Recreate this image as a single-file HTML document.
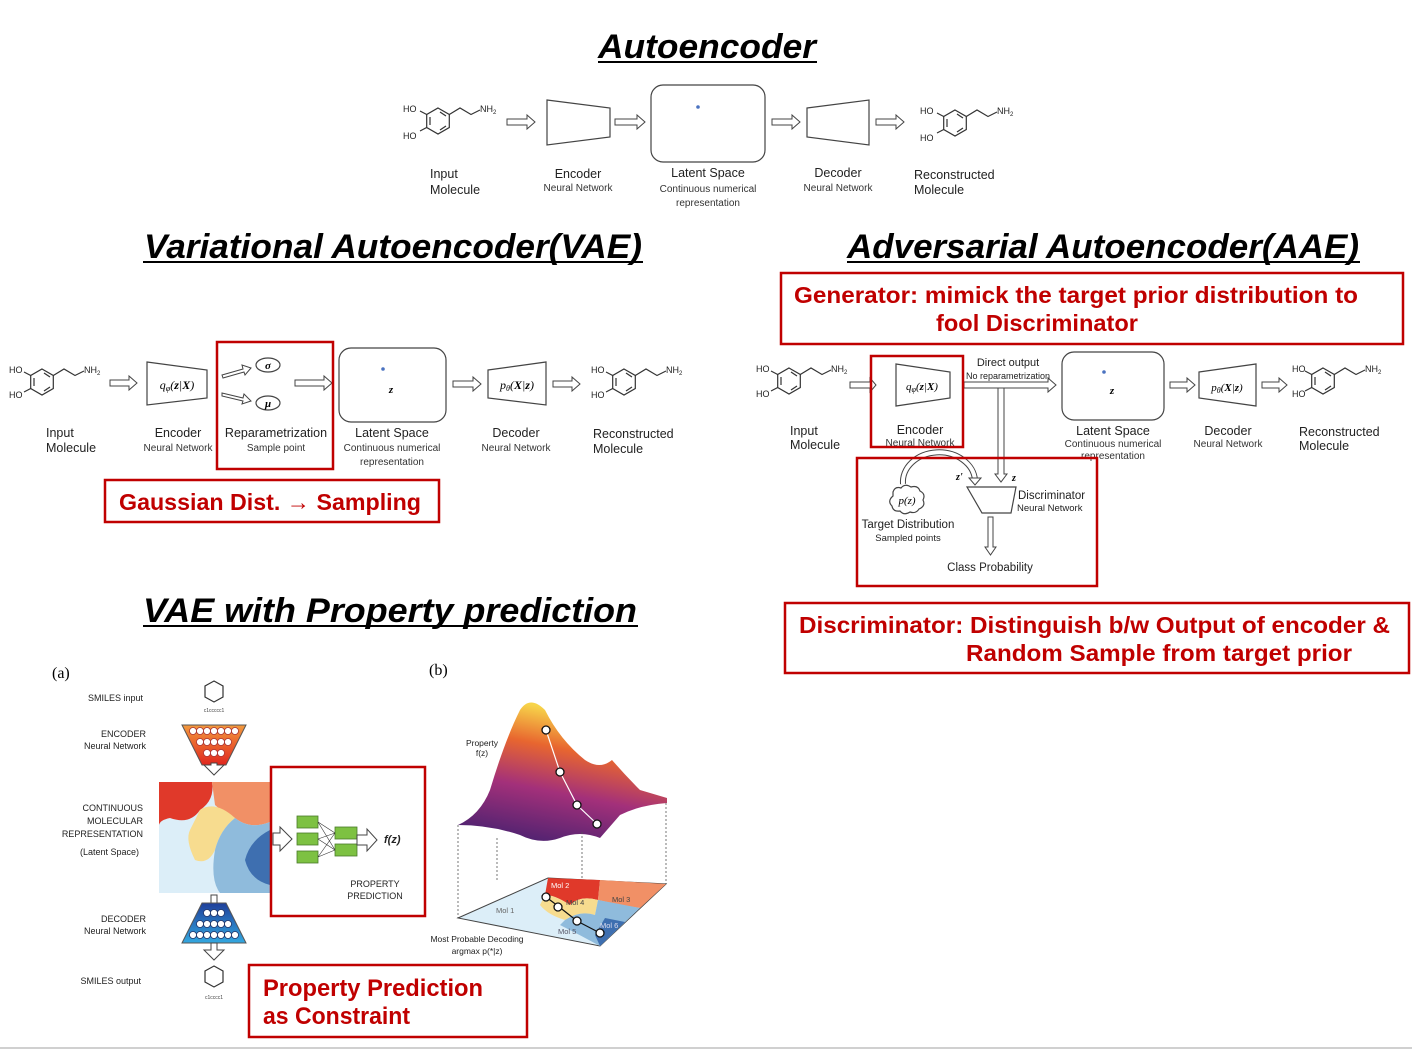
<!DOCTYPE html>
<html><head><meta charset="utf-8"><style>
html,body{margin:0;padding:0;background:#fff;}
svg{display:block;font-family:"Liberation Sans",sans-serif;}
.t{font-size:12.5px;fill:#222;}
.s{font-size:10px;fill:#333;}
.ti{font-size:34px;font-weight:bold;font-style:italic;fill:#000;text-anchor:middle;}
.red{font-weight:bold;fill:#c00000;}
.ar{fill:#fff;stroke:#444;stroke-width:1;}
.bx{fill:none;stroke:#c00000;stroke-width:2.5;}
.sh{fill:#fff;stroke:#444;stroke-width:1.2;}
.m{font-size:9px;fill:#222;}
.mf{fill:none;stroke:#333;stroke-width:1.2;}
</style></head><body>
<svg width="1412" height="1050" viewBox="0 0 1412 1050" xmlns="http://www.w3.org/2000/svg">
<defs>
<linearGradient id="surf" x1="0" y1="1" x2="0.3" y2="0">
<stop offset="0" stop-color="#3b1f6e"/><stop offset="0.45" stop-color="#a3307a"/><stop offset="0.75" stop-color="#e8662f"/><stop offset="1" stop-color="#f7d44a"/>
</linearGradient>
<linearGradient id="enc" x1="0" y1="0" x2="0" y2="1"><stop offset="0" stop-color="#f39a3d"/><stop offset="1" stop-color="#e0261e"/></linearGradient>
<linearGradient id="dec" x1="0" y1="0" x2="0" y2="1"><stop offset="0" stop-color="#1f3f9a"/><stop offset="1" stop-color="#33a8e0"/></linearGradient>
</defs>

<text class="ti" x="707" y="58" textLength="218" lengthAdjust="spacingAndGlyphs">Autoencoder</text>
<line x1="598" y1="62" x2="817" y2="62" stroke="#000" stroke-width="2"/>
<text class="ti" x="393" y="258" textLength="498" lengthAdjust="spacingAndGlyphs">Variational Autoencoder(VAE)</text>
<line x1="143" y1="262" x2="643" y2="262" stroke="#000" stroke-width="2"/>
<text class="ti" x="1103" y="258" textLength="512" lengthAdjust="spacingAndGlyphs">Adversarial Autoencoder(AAE)</text>
<line x1="847" y1="262" x2="1360" y2="262" stroke="#000" stroke-width="2"/>
<text class="ti" x="390" y="622" textLength="494" lengthAdjust="spacingAndGlyphs">VAE with Property prediction</text>
<line x1="143" y1="626" x2="638" y2="626" stroke="#000" stroke-width="2"/>

<g transform="translate(438,121)">
<path class="mf" d="M0,-13 L11.3,-6.5 L11.3,6.5 L0,13 L-11.3,6.5 L-11.3,-6.5 Z M-8,-4 L-8,4 M2,9 L8,5 M2,-9 L8,-5"/>
<path class="mf" d="M-11.3,-6.5 L-18,-10 M-11.3,6.5 L-18,10 M11.3,-6.5 L22,-13 L33,-6.5 L42,-11"/>
<text class="m" x="-35" y="-9">HO</text><text class="m" x="-35" y="18">HO</text><text class="m" x="42" y="-9">NH<tspan font-size="6" dy="2">2</tspan></text>
</g>
<path class="ar" d="M507,119 H527 V115 L535,122 L527,129 V125 H507 Z"/>
<path class="sh" d="M547,100 L610,108 L610,137 L547,145 Z"/>
<path class="ar" d="M615,119 H637 V115 L645,122 L637,129 V125 H615 Z"/>
<rect x="651" y="85" width="114" height="77" rx="12" class="sh"/>
<circle cx="698" cy="107" r="1.8" fill="#4a72c0"/>
<path class="ar" d="M772,119 H792 V115 L800,122 L792,129 V125 H772 Z"/>
<path class="sh" d="M807,108 L869,100 L869,145 L807,137 Z"/>
<path class="ar" d="M876,119 H896 V115 L904,122 L896,129 V125 H876 Z"/>
<g transform="translate(955,123)">
<path class="mf" d="M0,-13 L11.3,-6.5 L11.3,6.5 L0,13 L-11.3,6.5 L-11.3,-6.5 Z M-8,-4 L-8,4 M2,9 L8,5 M2,-9 L8,-5"/>
<path class="mf" d="M-11.3,-6.5 L-18,-10 M-11.3,6.5 L-18,10 M11.3,-6.5 L22,-13 L33,-6.5 L42,-11"/>
<text class="m" x="-35" y="-9">HO</text><text class="m" x="-35" y="18">HO</text><text class="m" x="42" y="-9">NH<tspan font-size="6" dy="2">2</tspan></text>
</g>
<text class="t" x="430" y="178">Input</text><text class="t" x="430" y="194">Molecule</text>
<text class="t" x="578" y="178" text-anchor="middle">Encoder</text><text class="s" x="578" y="191" text-anchor="middle">Neural Network</text>
<text class="t" x="708" y="177" text-anchor="middle">Latent Space</text><text class="s" x="708" y="192" text-anchor="middle">Continuous numerical</text><text class="s" x="708" y="206" text-anchor="middle">representation</text>
<text class="t" x="838" y="177" text-anchor="middle">Decoder</text><text class="s" x="838" y="191" text-anchor="middle">Neural Network</text>
<text class="t" x="914" y="179">Reconstructed</text><text class="t" x="914" y="194">Molecule</text>

<g transform="translate(42,382)">
<path class="mf" d="M0,-13 L11.3,-6.5 L11.3,6.5 L0,13 L-11.3,6.5 L-11.3,-6.5 Z M-8,-4 L-8,4 M2,9 L8,5 M2,-9 L8,-5"/>
<path class="mf" d="M-11.3,-6.5 L-18,-10 M-11.3,6.5 L-18,10 M11.3,-6.5 L22,-13 L33,-6.5 L42,-11"/>
<text class="m" x="-33" y="-9">HO</text><text class="m" x="-33" y="16">HO</text><text class="m" x="42" y="-9">NH<tspan font-size="6" dy="2">2</tspan></text>
</g>
<path class="ar" d="M110,380 H129 V376 L137,383 L129,390 V386 H110 Z"/>
<path class="sh" d="M147,362 L207,370 L207,398 L147,405 Z"/>
<text x="177" y="389" text-anchor="middle" font-family="Liberation Serif,serif" font-style="italic" font-size="12">q<tspan font-size="8" dy="2">φ</tspan><tspan dy="-2">(</tspan><tspan font-weight="bold">z</tspan>|<tspan font-weight="bold">X</tspan>)</text>
<path class="ar" d="M222,375 L243,369 L242,365 L251,368 L245,375 L244,372 L223,378 Z"/>
<path class="ar" d="M222,393 L243,398 L244,394 L251,401 L242,404 L243,401 L222,396 Z"/>
<ellipse cx="268" cy="365" rx="12" ry="7" class="sh"/><text x="268" y="369" text-anchor="middle" font-family="Liberation Serif,serif" font-style="italic" font-weight="bold" font-size="11">σ</text>
<ellipse cx="268" cy="403" rx="12" ry="7" class="sh"/><text x="268" y="407" text-anchor="middle" font-family="Liberation Serif,serif" font-style="italic" font-weight="bold" font-size="11">μ</text>
<path class="ar" d="M295,380 H324 V376 L332,383 L324,390 V386 H295 Z"/>
<rect x="339" y="348" width="107" height="74" rx="12" class="sh"/>
<circle cx="383" cy="369" r="1.8" fill="#4a72c0"/>
<text x="391" y="393" text-anchor="middle" font-family="Liberation Serif,serif" font-style="italic" font-weight="bold" font-size="11">z</text>
<path class="ar" d="M453,381 H473 V377 L481,384 L473,391 V387 H453 Z"/>
<path class="sh" d="M488,370 L546,362 L546,405 L488,398 Z"/>
<text x="517" y="389" text-anchor="middle" font-family="Liberation Serif,serif" font-style="italic" font-size="12">p<tspan font-size="8" dy="2">θ</tspan><tspan dy="-2">(</tspan><tspan font-weight="bold">X</tspan>|<tspan font-weight="bold">z</tspan>)</text>
<path class="ar" d="M553,381 H572 V377 L580,384 L572,391 V387 H553 Z"/>
<g transform="translate(624,382)">
<path class="mf" d="M0,-13 L11.3,-6.5 L11.3,6.5 L0,13 L-11.3,6.5 L-11.3,-6.5 Z M-8,-4 L-8,4 M2,9 L8,5 M2,-9 L8,-5"/>
<path class="mf" d="M-11.3,-6.5 L-18,-10 M-11.3,6.5 L-18,10 M11.3,-6.5 L22,-13 L33,-6.5 L42,-11"/>
<text class="m" x="-33" y="-9">HO</text><text class="m" x="-33" y="16">HO</text><text class="m" x="42" y="-9">NH<tspan font-size="6" dy="2">2</tspan></text>
</g>
<rect x="217" y="342" width="116" height="127" class="bx"/>
<text class="t" x="46" y="437">Input</text><text class="t" x="46" y="452">Molecule</text>
<text class="t" x="178" y="437" text-anchor="middle">Encoder</text><text class="s" x="178" y="451" text-anchor="middle">Neural Network</text>
<text class="t" x="276" y="437" text-anchor="middle">Reparametrization</text><text class="s" x="276" y="451" text-anchor="middle">Sample point</text>
<text class="t" x="392" y="437" text-anchor="middle">Latent Space</text><text class="s" x="392" y="451" text-anchor="middle">Continuous numerical</text><text class="s" x="392" y="465" text-anchor="middle">representation</text>
<text class="t" x="516" y="437" text-anchor="middle">Decoder</text><text class="s" x="516" y="451" text-anchor="middle">Neural Network</text>
<text class="t" x="593" y="438">Reconstructed</text><text class="t" x="593" y="453">Molecule</text>
<rect x="105" y="480" width="334" height="42" class="bx"/>
<text class="red" x="119" y="510" font-size="23" textLength="302" lengthAdjust="spacingAndGlyphs">Gaussian Dist. → Sampling</text>

<rect x="781" y="273" width="622" height="71" class="bx"/>
<text class="red" x="794" y="303" font-size="23" textLength="564" lengthAdjust="spacingAndGlyphs">Generator: mimick the target prior distribution to</text>
<text class="red" x="936" y="331" font-size="23" textLength="202" lengthAdjust="spacingAndGlyphs">fool Discriminator</text>
<g transform="translate(789,381)">
<path class="mf" d="M0,-13 L11.3,-6.5 L11.3,6.5 L0,13 L-11.3,6.5 L-11.3,-6.5 Z M-8,-4 L-8,4 M2,9 L8,5 M2,-9 L8,-5"/>
<path class="mf" d="M-11.3,-6.5 L-18,-10 M-11.3,6.5 L-18,10 M11.3,-6.5 L22,-13 L33,-6.5 L42,-11"/>
<text class="m" x="-33" y="-9">HO</text><text class="m" x="-33" y="16">HO</text><text class="m" x="42" y="-9">NH<tspan font-size="6" dy="2">2</tspan></text>
</g>
<path class="ar" d="M850,382 H870 V378 L876,385 L870,392 V388 H850 Z"/>
<path class="sh" d="M896,364 L950,372 L950,398 L896,406 Z"/>
<text x="922" y="390" text-anchor="middle" font-family="Liberation Serif,serif" font-style="italic" font-size="11">q<tspan font-size="8" dy="2">φ</tspan><tspan dy="-2">(</tspan><tspan font-weight="bold">z</tspan>|<tspan font-weight="bold">X</tspan>)</text>
<path class="ar" d="M964,382 H1048 V378 L1056,385 L1048,392 V388 H964 Z"/>
<path class="ar" d="M998,388 H1004 V474 H1007 L1001,482 L995,474 H998 Z"/>
<text x="1008" y="366" font-size="11" text-anchor="middle" fill="#222">Direct output</text>
<text x="1008" y="379" font-size="9" text-anchor="middle" fill="#222">No reparametrization</text>
<rect x="1062" y="352" width="102" height="68" rx="12" class="sh"/>
<circle cx="1104" cy="372" r="1.8" fill="#4a72c0"/>
<text x="1112" y="394" text-anchor="middle" font-family="Liberation Serif,serif" font-style="italic" font-weight="bold" font-size="11">z</text>
<path class="ar" d="M1170,382 H1187 V378 L1195,385 L1187,392 V388 H1170 Z"/>
<path class="sh" d="M1199,372 L1256,364 L1256,406 L1199,398 Z"/>
<text x="1227" y="391" text-anchor="middle" font-family="Liberation Serif,serif" font-style="italic" font-size="11">p<tspan font-size="8" dy="2">θ</tspan><tspan dy="-2">(</tspan><tspan font-weight="bold">X</tspan>|<tspan font-weight="bold">z</tspan>)</text>
<path class="ar" d="M1262,382 H1279 V378 L1287,385 L1279,392 V388 H1262 Z"/>
<g transform="translate(1323,381)">
<path class="mf" d="M0,-13 L11.3,-6.5 L11.3,6.5 L0,13 L-11.3,6.5 L-11.3,-6.5 Z M-8,-4 L-8,4 M2,9 L8,5 M2,-9 L8,-5"/>
<path class="mf" d="M-11.3,-6.5 L-18,-10 M-11.3,6.5 L-18,10 M11.3,-6.5 L22,-13 L33,-6.5 L42,-11"/>
<text class="m" x="-31" y="-9">HO</text><text class="m" x="-31" y="16">HO</text><text class="m" x="42" y="-9">NH<tspan font-size="6" dy="2">2</tspan></text>
</g>
<rect x="871" y="356" width="92" height="91" class="bx"/>
<text class="t" x="790" y="435">Input</text><text class="t" x="790" y="449">Molecule</text>
<text class="t" x="920" y="434" text-anchor="middle">Encoder</text><text class="s" x="920" y="446" text-anchor="middle">Neural Network</text>
<text class="t" x="1113" y="435" text-anchor="middle">Latent Space</text><text class="s" x="1113" y="447" text-anchor="middle">Continuous numerical</text><text class="s" x="1113" y="459" text-anchor="middle">representation</text>
<text class="t" x="1228" y="435" text-anchor="middle">Decoder</text><text class="s" x="1228" y="447" text-anchor="middle">Neural Network</text>
<text class="t" x="1299" y="436">Reconstructed</text><text class="t" x="1299" y="450">Molecule</text>
<path d="M903,484 A34,28 0 0 1 975,480" fill="none" stroke="#444" stroke-width="6"/>
<path d="M903,484 A34,28 0 0 1 975,480" fill="none" stroke="#fff" stroke-width="4"/>
<path class="ar" d="M969,478 L981,478 L975,485 Z"/>
<text x="956" y="480" font-family="Liberation Serif,serif" font-style="italic" font-weight="bold" font-size="10">z'</text>
<text x="1012" y="481" font-family="Liberation Serif,serif" font-style="italic" font-weight="bold" font-size="10">z</text>
<path class="sh" d="M967,487 L1016,487 L1011,513 L982,513 Z"/>
<text x="1018" y="499" font-size="11.5" fill="#222">Discriminator</text>
<text x="1017" y="511" font-size="9.5" fill="#222">Neural Network</text>
<path d="M893,492 q2,-6 8,-4 q4,-5 10,-1 q7,-2 9,4 q6,3 3,9 q3,6 -4,9 q-3,5 -9,3 q-6,4 -10,-1 q-7,1 -8,-5 q-5,-5 1,-10 Z" class="sh"/>
<text x="907" y="504" text-anchor="middle" font-family="Liberation Serif,serif" font-style="italic" font-size="11">p(z)</text>
<text x="908" y="528" text-anchor="middle" font-size="11.5" fill="#222">Target Distribution</text>
<text x="908" y="541" text-anchor="middle" font-size="9.5" fill="#222">Sampled points</text>
<path class="ar" d="M988,517 H993 V547 H996 L990.5,555 L985,547 H988 Z"/>
<text x="990" y="571" text-anchor="middle" font-size="11.5" fill="#222">Class Probability</text>
<rect x="857" y="458" width="240" height="128" class="bx"/>
<rect x="785" y="603" width="624" height="70" class="bx"/>
<text class="red" x="799" y="633" font-size="23" textLength="591" lengthAdjust="spacingAndGlyphs">Discriminator: Distinguish b/w Output of encoder &amp;</text>
<text class="red" x="966" y="661" font-size="23" textLength="386" lengthAdjust="spacingAndGlyphs">Random Sample from target prior</text>

<text x="52" y="678" font-family="Liberation Serif,serif" font-size="16">(a)</text>
<text x="143" y="701" font-size="9" text-anchor="end" fill="#222">SMILES input</text>
<path class="mf" d="M214,681 L223,686 L223,697 L214,702 L205,697 L205,686 Z"/>
<text x="214" y="712" font-size="5" text-anchor="middle" fill="#444">c1ccccc1</text>
<text x="146" y="737" font-size="9" text-anchor="end" fill="#222">ENCODER</text>
<text x="146" y="749" font-size="9" text-anchor="end" fill="#222">Neural Network</text>
<path d="M182,725 L246,725 L226,765 L202,765 Z" fill="url(#enc)" stroke="#555"/>
<g fill="#fff" stroke="#a33" stroke-width="0.8">
<circle cx="193" cy="731" r="3.5"/><circle cx="200" cy="731" r="3.5"/><circle cx="207" cy="731" r="3.5"/><circle cx="214" cy="731" r="3.5"/><circle cx="221" cy="731" r="3.5"/><circle cx="228" cy="731" r="3.5"/><circle cx="235" cy="731" r="3.5"/>
<circle cx="200" cy="742" r="3.5"/><circle cx="207" cy="742" r="3.5"/><circle cx="214" cy="742" r="3.5"/><circle cx="221" cy="742" r="3.5"/><circle cx="228" cy="742" r="3.5"/>
<circle cx="207" cy="753" r="3.5"/><circle cx="214" cy="753" r="3.5"/><circle cx="221" cy="753" r="3.5"/>
</g>
<path class="ar" d="M211,763 H217 V765 H224 L214,775 L204,765 H211 Z"/>
<rect x="159" y="782" width="111" height="111" fill="#dceef8"/>
<path d="M159,782 H212 Q215,800 200,810 Q190,825 170,818 Q160,820 159,825 Z" fill="#e0392a"/>
<path d="M212,782 H270 V822 Q250,830 235,818 Q222,812 215,805 Z" fill="#f19066"/>
<path d="M200,810 Q215,800 235,818 Q220,830 215,850 Q208,865 195,860 Q185,840 190,830 Z" fill="#f7dc8f"/>
<path d="M235,818 Q250,830 270,822 V893 H220 Q210,880 215,850 Q220,830 235,818 Z" fill="#8fbbdc"/>
<path d="M270,830 Q250,840 245,860 Q250,880 270,885 Z" fill="#3e6fb0"/>
<text x="143" y="811" font-size="9" text-anchor="end" fill="#222">CONTINUOUS</text>
<text x="143" y="824" font-size="9" text-anchor="end" fill="#222">MOLECULAR</text>
<text x="143" y="837" font-size="9" text-anchor="end" fill="#222">REPRESENTATION</text>
<text x="139" y="855" font-size="9" text-anchor="end" fill="#222">(Latent Space)</text>
<path class="ar" d="M273,833 H280 V827 L292,839 L280,851 V845 H273 Z"/>
<g fill="#7dc142" stroke="#4a7a2a" stroke-width="0.8">
<rect x="297" y="816" width="21" height="12"/><rect x="297" y="833" width="21" height="12"/><rect x="297" y="851" width="21" height="12"/>
<rect x="335" y="827" width="22" height="12"/><rect x="335" y="844" width="22" height="12"/>
</g>
<path d="M318,822 L335,833 M318,822 L335,850 M318,839 L335,833 M318,839 L335,850 M318,857 L335,833 M318,857 L335,850" stroke="#333" stroke-width="0.6"/>
<path class="ar" d="M357,835 H367 V829 L377,840 L367,851 V845 H357 Z"/>
<text x="384" y="843" font-size="11" font-style="italic" font-weight="bold" fill="#222">f(z)</text>
<text x="375" y="887" font-size="9" text-anchor="middle" fill="#222">PROPERTY</text>
<text x="375" y="899" font-size="9" text-anchor="middle" fill="#222">PREDICTION</text>
<rect x="271" y="767" width="154" height="149" class="bx"/>
<path class="ar" d="M211,895 H217 V903 H211 Z"/>
<text x="146" y="922" font-size="9" text-anchor="end" fill="#222">DECODER</text>
<text x="146" y="934" font-size="9" text-anchor="end" fill="#222">Neural Network</text>
<path d="M202,903 L226,903 L246,943 L182,943 Z" fill="url(#dec)" stroke="#555"/>
<g fill="#fff" stroke="#236" stroke-width="0.8">
<circle cx="207" cy="913" r="3.5"/><circle cx="214" cy="913" r="3.5"/><circle cx="221" cy="913" r="3.5"/>
<circle cx="200" cy="924" r="3.5"/><circle cx="207" cy="924" r="3.5"/><circle cx="214" cy="924" r="3.5"/><circle cx="221" cy="924" r="3.5"/><circle cx="228" cy="924" r="3.5"/>
<circle cx="193" cy="935" r="3.5"/><circle cx="200" cy="935" r="3.5"/><circle cx="207" cy="935" r="3.5"/><circle cx="214" cy="935" r="3.5"/><circle cx="221" cy="935" r="3.5"/><circle cx="228" cy="935" r="3.5"/><circle cx="235" cy="935" r="3.5"/>
</g>
<path class="ar" d="M211,943 H217 V950 H224 L214,960 L204,950 H211 Z"/>
<text x="141" y="984" font-size="9" text-anchor="end" fill="#222">SMILES output</text>
<path class="mf" d="M214,966 L223,971 L223,982 L214,987 L205,982 L205,971 Z"/>
<text x="214" y="999" font-size="5" text-anchor="middle" fill="#444">c1cccc1</text>
<rect x="249" y="965" width="278" height="72" class="bx"/>
<text class="red" x="263" y="996" font-size="24" textLength="220" lengthAdjust="spacingAndGlyphs">Property Prediction</text>
<text class="red" x="263" y="1024" font-size="24" textLength="147" lengthAdjust="spacingAndGlyphs">as Constraint</text>

<text x="429" y="675" font-family="Liberation Serif,serif" font-size="16">(b)</text>
<text x="482" y="746" font-size="8.5" text-anchor="middle" fill="#222">Property</text>
<text x="482" y="756" font-size="8.5" text-anchor="middle" fill="#222">f(z)</text>
<path d="M458,825 Q480,815 490,790 Q505,740 520,710 Q530,695 545,710 Q560,740 585,760 Q600,770 612,760 Q625,775 640,790 L667,798 L667,803 Q640,805 620,815 L600,838 Q580,830 560,838 Q540,845 520,835 Q490,825 458,825 Z" fill="url(#surf)"/>
<g stroke="#555" stroke-dasharray="2,2" stroke-width="0.8" fill="none">
<path d="M458,825 V918 M497,838 V880 M582,832 V880 M666,803 V884"/>
</g>
<path d="M458,918 L548,878 L666,884 L600,946 Z" fill="#dceef8" stroke="#444"/>
<path d="M548,878 L600,880 L598,900 Q580,895 570,905 Q555,895 545,895 Z" fill="#e0392a"/>
<path d="M600,880 L666,884 L640,908 Q620,905 598,900 Z" fill="#f19066"/>
<path d="M545,895 Q555,895 570,905 Q580,895 598,900 L595,915 Q580,910 565,920 Q548,915 540,905 Z" fill="#f7dc8f"/>
<path d="M565,920 Q580,910 595,915 L598,900 L640,908 L600,946 Q580,935 560,925 Z" fill="#8fbbdc"/>
<path d="M600,946 L625,922 L605,918 L595,935 Z" fill="#3e6fb0"/>
<text x="551" y="888" font-size="7.5" fill="#fff">Mol 2</text>
<text x="566" y="905" font-size="7.5" fill="#444">Mol 4</text>
<text x="612" y="902" font-size="7.5" fill="#444">Mol 3</text>
<text x="496" y="913" font-size="7.5" fill="#666">Mol 1</text>
<text x="558" y="934" font-size="7.5" fill="#556">Mol 5</text>
<text x="600" y="928" font-size="7.5" fill="#dde">Mol 6</text>
<path d="M546,730 L560,772 L577,805 L597,824" fill="none" stroke="#fff" stroke-width="1.2"/>
<path d="M546,897 L558,906 L577,921 L600,933" fill="none" stroke="#111" stroke-width="1.2"/>
<g fill="#fff" stroke="#111" stroke-width="1.3">
<circle cx="546" cy="730" r="4"/><circle cx="560" cy="772" r="4"/><circle cx="577" cy="805" r="4"/><circle cx="597" cy="824" r="4"/>
<circle cx="546" cy="897" r="4"/><circle cx="558" cy="907" r="4"/><circle cx="577" cy="921" r="4"/><circle cx="600" cy="933" r="4"/>
</g>
<text x="477" y="942" font-size="8.5" text-anchor="middle" fill="#222">Most Probable Decoding</text>
<text x="477" y="954" font-size="8.5" text-anchor="middle" fill="#222">argmax p(*|z)</text>

<line x1="0" y1="1048" x2="1412" y2="1048" stroke="#d0d0d0" stroke-width="2"/>
</svg>
</body></html>
